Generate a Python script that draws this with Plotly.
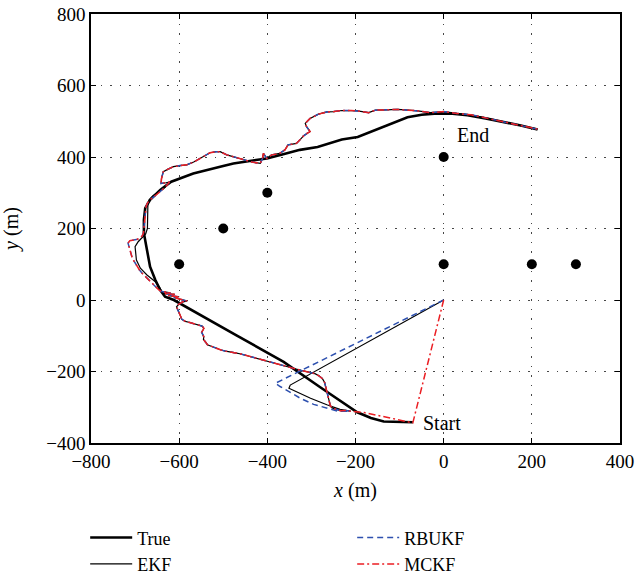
import plotly.graph_objects as go

# ---------------- data ----------------
X_TICKS = [-800, -600, -400, -200, 0, 200, 400]
Y_TICKS = [-400, -200, 0, 200, 400, 600, 800]

LANDMARK_X = [-600, -500, -400, 0, 0, 200, 300]
LANDMARK_Y = [100, 200, 300, 400, 100, 100, 100]

TRUE_X = [-70, -105, -136, -165, -196, -280, -363, -470, -575, -590, -612, -632, -643, -654, -666, -673,
          -680, -680, -677, -666, -643, -618, -568, -507, -477, -440, -401, -364, -326, -286, -231, -195,
          -166, -125, -82, -50, -14, 20, 54, 95, 137, 175, 213]
TRUE_Y = [-342, -342, -340, -330, -314, -244, -173, -99, -25, -14, 0, 9, 28, 56, 93, 140,
          187, 224, 257, 280, 308, 331, 354, 373, 382, 389, 396, 408, 420, 428, 449, 456,
          470, 490, 511, 518, 522, 521, 517, 508, 498, 488, 477]

EKF_INIT_X = [0, -348, -351, -325, -302, -265, -235]
EKF_INIT_Y = [0, -238, -247, -262, -275, -293, -306]
RBUKF_INIT_X = [0, -382, -371, -345, -325, -295, -265, -240]
RBUKF_INIT_Y = [0, -233, -242, -260, -275, -292, -303, -311]
MCKF_INIT_X = [0, -70, -110, -149, -180]
MCKF_INIT_Y = [0, -344, -333, -322, -315]

EST_A_X = [-211, -222, -233, -244, -253, -257, -259, -262, -264, -266,
           -268, -270, -275, -283, -292, -301, -312, -323, -335, -347,
           -358, -368, -378, -390, -401, -413, -425, -437, -448, -460,
           -472, -484, -495, -505, -514, -522, -530, -536, -540, -545,
           -544, -547, -549, -546, -544, -548, -555, -566, -576, -586,
           -594, -597, -600, -603, -606, -601]
EST_A_Y = [-311, -309, -310, -305, -302, -296, -286, -277, -264, -252,
           -241, -231, -220, -212, -206, -204, -200, -197, -193, -189,
           -184, -182, -178, -173, -169, -166, -161, -158, -155, -151,
           -148, -146, -143, -140, -136, -133, -128, -125, -118, -110,
           -103, -97, -90, -84, -79, -73, -70, -67, -63, -60,
           -54, -45, -36, -27, -19, -12]

CLUSTER_X = [-592, -582, -598, -612, -600, -625, -610, -636, -620, -640]
CLUSTER_Y = [-5, -3, 3, 7, 9, 12, 16, 18, 20, 24]

EST_B_X = [-646, -652, -658, -664, -670, -677, -684, -690, -695, -699,
           -703, -707, -710, -713, -716, -712, -704, -697, -689, -684,
           -681, -680, -679, -678, -676, -675, -672, -666, -657, -648,
           -640, -633, -628, -622, -630, -641, -640, -638, -636, -625,
           -613, -598, -583, -567, -552, -541, -530, -516, -507]
EST_B_Y = [28, 35, 42, 50, 57, 66, 75, 84, 93, 101,
           110, 120, 131, 145, 159, 166, 167, 169, 173, 179,
           187, 200, 215, 233, 250, 262, 271, 280, 289, 298,
           307, 314, 321, 330, 328, 326, 340, 352, 359, 366,
           373, 376, 378, 386, 396, 405, 412, 415, 415]

EKF_B_X = [-643, -654, -673, -688, -697, -700, -693, -685, -676, -672,
           -671, -671, -668, -660, -650, -640, -633, -628, -622, -630,
           -641, -640, -638, -636, -625, -613, -598, -583, -567, -552,
           -541, -530, -516, -507]
EKF_B_Y = [33, 51, 70, 89, 112, 149, 163, 173, 185, 200,
           230, 265, 280, 291, 300, 308, 314, 321, 330, 328,
           326, 340, 352, 359, 366, 373, 376, 378, 386, 396,
           405, 412, 415, 415]

EST_C_X = [-492, -470, -454, -435, -416, -411, -409, -401, -395, -390,
           -381, -372, -360, -353, -343, -334, -326, -318, -310, -303,
           -307, -311, -314, -303, -284, -265, -249, -231, -210, -196,
           -170, -155, -130, -105, -80, -59, -30, 0, 30, 62,
           100, 137, 175, 213]
EST_C_Y = [406, 398, 392, 386, 382, 396, 410, 396, 402, 406,
           408, 410, 420, 434, 436, 438, 448, 459, 466, 471,
           478, 485, 494, 508, 520, 526, 527, 530, 530, 529,
           524, 531, 532, 533, 531, 529, 524, 527, 522, 518,
           508, 499, 488, 478]

EKF_X = EKF_INIT_X + EST_A_X + CLUSTER_X + EKF_B_X + EST_C_X
EKF_Y = EKF_INIT_Y + EST_A_Y + CLUSTER_Y + EKF_B_Y + EST_C_Y
RBUKF_X = RBUKF_INIT_X + EST_A_X + CLUSTER_X + EST_B_X + EST_C_X
RBUKF_Y = RBUKF_INIT_Y + EST_A_Y + CLUSTER_Y + EST_B_Y + EST_C_Y
MCKF_X = MCKF_INIT_X + EST_A_X + CLUSTER_X + EST_B_X + EST_C_X
MCKF_Y = MCKF_INIT_Y + EST_A_Y + CLUSTER_Y + EST_B_Y + EST_C_Y

FONT = "Liberation Serif, Times New Roman, serif"

fig = go.Figure()
fig.add_trace(go.Scatter(x=LANDMARK_X, y=LANDMARK_Y, mode="markers",
                         marker=dict(color="black", size=10), showlegend=False))
fig.add_trace(go.Scatter(x=TRUE_X, y=TRUE_Y, mode="lines", name="True", legendrank=1,
                         line=dict(color="black", width=2.6)))
fig.add_trace(go.Scatter(x=EKF_X, y=EKF_Y, mode="lines", name="EKF", legendrank=3,
                         line=dict(color="black", width=1.2)))
fig.add_trace(go.Scatter(x=RBUKF_X, y=RBUKF_Y, mode="lines", name="RBUKF", legendrank=2,
                         line=dict(color="rgb(45,80,175)", width=1.5, dash="6px,4px")))
fig.add_trace(go.Scatter(x=MCKF_X, y=MCKF_Y, mode="lines", name="MCKF", legendrank=4,
                         line=dict(color="rgb(235,30,35)", width=1.5, dash="7px,3px,2px,3px")))

fig.add_annotation(x=-52, y=-344, text="Start", showarrow=False, xanchor="left",
                   font=dict(family=FONT, size=20, color="black"))
fig.add_annotation(x=26, y=462, text="End", showarrow=False, xanchor="left",
                   font=dict(family=FONT, size=20, color="black"))

axis_common = dict(showline=True, linecolor="black", linewidth=1.5, mirror="ticks",
                   ticks="inside", ticklen=5, tickcolor="black", tickwidth=1.2,
                   showgrid=True, gridcolor="rgb(70,70,70)", gridwidth=1, griddash="1.5px,8px",
                   zeroline=False, tickfont=dict(family=FONT, size=19, color="black"))

fig.update_xaxes(range=[-800, 400], tickvals=X_TICKS, ticktext=[str(v).replace("-", "\u2212") for v in X_TICKS],
                 title=dict(text="<i>x</i> (m)", font=dict(family=FONT, size=20, color="black"), standoff=12),
                 **axis_common)
fig.update_yaxes(range=[-400, 800], tickvals=Y_TICKS, ticktext=[str(v).replace("-", "\u2212") for v in Y_TICKS],
                 title=dict(text="<i>y</i> (m)", font=dict(family=FONT, size=20, color="black"), standoff=22),
                 **axis_common)

fig.update_layout(
    width=636, height=577,
    margin=dict(l=91, r=16, t=14, b=134, autoexpand=False),
    paper_bgcolor="white", plot_bgcolor="white",
    font=dict(family=FONT, size=19, color="black"),
    legend=dict(orientation="h", x=-0.011, xanchor="left", y=-0.178, yanchor="top",
                entrywidth=210, itemwidth=42, font=dict(family=FONT, size=18, color="black"),
                bgcolor="rgba(0,0,0,0)"),
)

fig.write_html("out.html")
